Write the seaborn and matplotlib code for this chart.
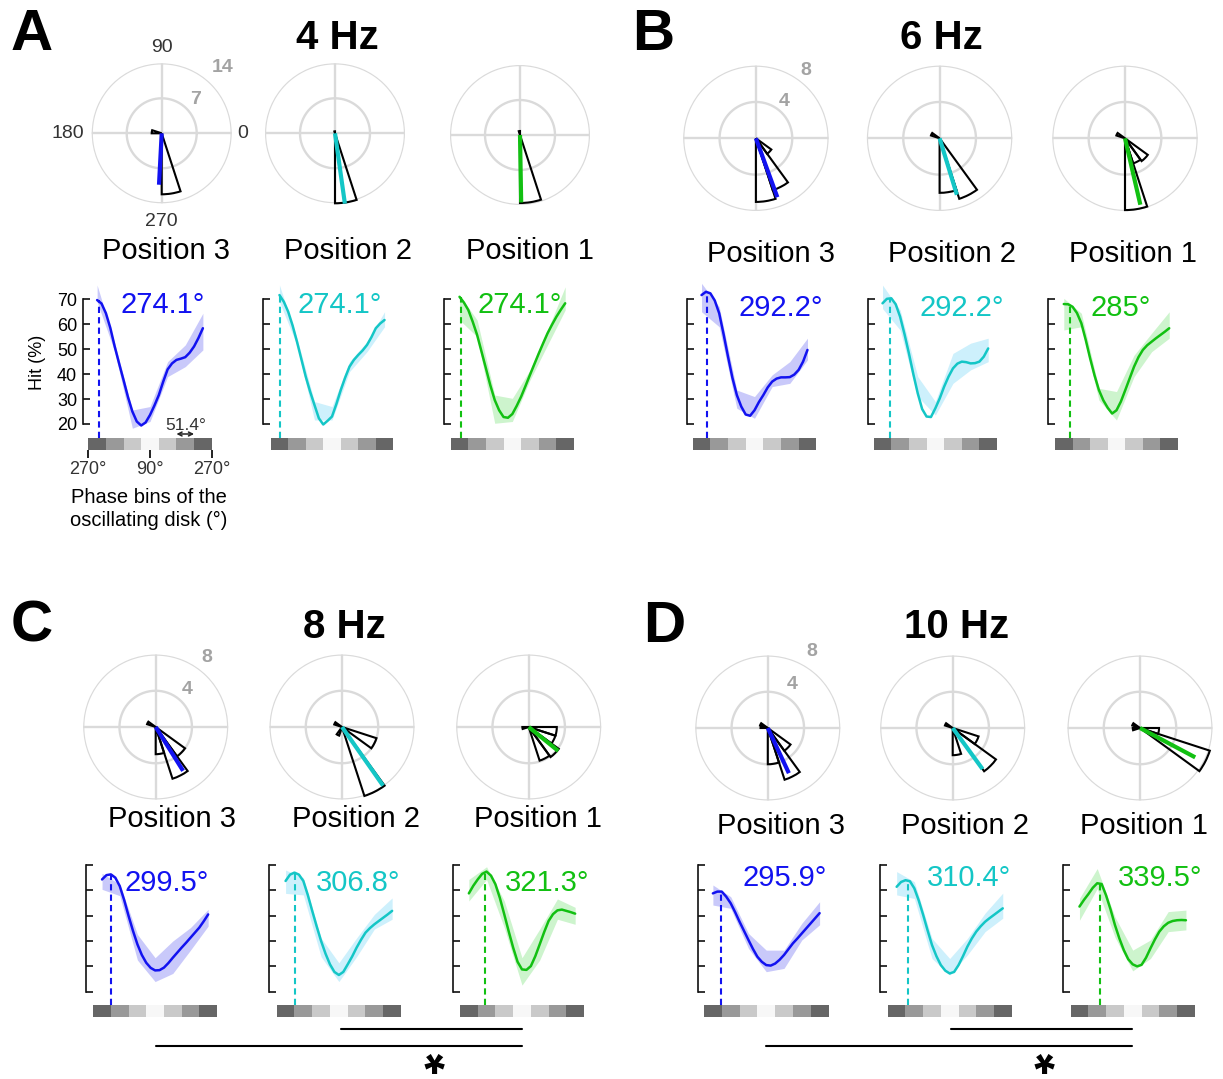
import numpy as np
import matplotlib
matplotlib.use("Agg")
import matplotlib.pyplot as plt
from matplotlib.lines import Line2D
import seaborn as sns

# ---------------------------------------------------------------- data
frequencies = ["4 Hz", "6 Hz", "8 Hz", "10 Hz"]
panel_letters = ["A", "B", "C", "D"]
positions = ["Position 3", "Position 2", "Position 1"]

phase_tick_labels = ["270°", "90°", "270°"]
bin_width_label = "51.4°"
hit_ylabel = "Hit (%)"
phase_xlabel = "Phase bins of the\noscillating disk (°)"
hit_ticks = [20, 30, 40, 50, 60, 70]

phase_bin_x = [0.5, 1.5, 2.5, 3.5, 4.5, 5.5, 6.5]
phase_bin_shade = ["#666666", "#999999", "#c9c9c9", "#f7f7f7", "#c9c9c9", "#999999", "#666666"]
hit_curve_x = [0.5, 0.75, 1.0, 1.25, 1.5, 1.75, 2.0, 2.25, 2.5, 2.75, 3.0, 3.25, 3.5,
               3.75, 4.0, 4.25, 4.5, 4.75, 5.0, 5.25, 5.5, 5.75, 6.0, 6.25, 6.5]

rose_rmax = [14, 8, 8, 8]
rose_bin_width = 18  # degrees

# ---- 4 Hz
rose_bins_4hz = [[270, 162], [270, 90], [270, 90]]
rose_counts_4hz = [[12.2, 2.0], [14.0, 0.4], [13.6, 0.8]]
mean_angle_4hz = [267, 278, 271]
mean_len_4hz = [10.3, 14.2, 13.5]
hit_4hz = [[69.7, 68.3, 64.4, 58.5, 51.0, 44.2, 37.6, 30.8, 25.0, 21.0, 19.4, 20.6, 23.6,
            27.4, 31.6, 37.0, 41.9, 44.3, 45.7, 46.2, 46.8, 48.6, 51.1, 54.5, 58.4],
           [71.7, 69.0, 65.0, 59.5, 53.0, 46.0, 39.0, 33.0, 27.6, 22.3, 19.8, 21.3, 23.0,
            28.0, 33.6, 38.6, 43.0, 45.7, 47.7, 49.5, 51.7, 54.8, 58.4, 60.3, 61.7],
           [71.0, 68.7, 65.7, 61.0, 55.7, 49.0, 42.3, 35.5, 29.6, 25.5, 22.8, 22.5, 24.0,
            27.3, 31.0, 35.3, 39.7, 44.0, 48.3, 52.4, 56.4, 59.8, 63.0, 65.8, 68.4]]
sem_lo_4hz = [[69.0, 49.0, 18.3, 21.0, 39.0, 43.0, 49.7],
              [69.0, 51.7, 21.6, 21.6, 41.0, 49.0, 59.0],
              [61.7, 55.0, 20.3, 21.0, 37.6, 51.7, 65.7]]
sem_hi_4hz = [[75.7, 52.4, 25.6, 27.0, 45.0, 51.7, 64.4],
              [75.7, 54.4, 29.0, 27.0, 45.0, 53.0, 65.0],
              [71.7, 61.7, 31.6, 30.3, 41.6, 57.7, 75.0]]
peak_x_4hz = [0.62, 0.53, 0.57]
peak_label_4hz = ["274.1°", "274.1°", "274.1°"]

# ---- 6 Hz
rose_bins_6hz = [[270, 288, 306], [270, 288, 144], [270, 288, 306, 144]]
rose_counts_6hz = [[7.0, 6.0, 2.1], [6.0, 7.0, 1.0], [7.9, 2.9, 3.1, 1.0]]
mean_angle_6hz = [290, 287, 283]
mean_len_6hz = [6.9, 6.5, 7.5]
hit_6hz = [[71.7, 73.0, 72.4, 69.5, 64.4, 56.0, 47.0, 38.5, 31.6, 27.0, 23.8, 23.3, 25.5,
            28.8, 31.6, 34.7, 37.0, 38.2, 38.7, 38.7, 38.8, 39.8, 41.7, 45.0, 49.7],
           [68.4, 70.2, 70.4, 68.0, 63.0, 56.0, 48.3, 40.0, 32.3, 26.0, 23.0, 22.8, 26.3,
            30.3, 35.0, 39.0, 42.3, 44.2, 45.0, 44.8, 44.3, 44.4, 45.0, 47.0, 50.3],
           [68.1, 68.0, 67.0, 64.5, 60.4, 53.7, 46.3, 39.5, 33.6, 29.5, 26.5, 24.2, 25.5,
            29.0, 33.6, 38.3, 43.0, 46.8, 49.7, 51.6, 53.0, 54.4, 55.7, 57.0, 58.4]]
sem_lo_6hz = [[65.0, 59.0, 26.3, 22.3, 35.0, 36.3, 45.7],
              [66.3, 57.7, 31.0, 23.6, 36.3, 41.7, 45.0],
              [57.7, 59.0, 29.6, 21.6, 39.0, 49.0, 54.4]]
sem_hi_6hz = [[76.4, 67.0, 33.6, 31.0, 39.7, 45.0, 54.4],
              [75.7, 65.7, 39.0, 29.0, 48.3, 52.4, 54.4],
              [70.4, 64.4, 34.3, 33.0, 47.6, 56.4, 65.0]]
peak_x_6hz = [0.82, 0.91, 0.83]
peak_label_6hz = ["292.2°", "292.2°", "285°"]

# ---- 8 Hz
rose_bins_8hz = [[270, 288, 306, 144], [288, 324, 144, 234], [288, 306, 324, 342, 180]]
rose_counts_8hz = [[3.0, 6.0, 4.0, 1.0], [8.0, 4.0, 0.9, 1.0], [3.9, 4.1, 3.1, 3.1, 0.7]]
mean_angle_8hz = [302, 305, 321]
mean_len_8hz = [5.7, 7.9, 4.2]
hit_8hz = [[64.3, 66.0, 66.3, 65.0, 61.7, 56.2, 49.9, 44.0, 38.7, 34.5, 31.4, 29.4, 28.4,
            28.5, 29.5, 31.3, 33.4, 35.4, 37.4, 39.3, 41.3, 43.3, 45.3, 47.8, 50.5],
           [63.7, 66.2, 67.0, 66.2, 63.7, 58.2, 51.9, 45.8, 40.0, 35.0, 30.8, 27.8, 26.6,
            27.8, 30.8, 33.9, 37.4, 40.5, 43.3, 45.1, 46.6, 47.9, 49.2, 50.5, 51.9],
           [58.8, 61.8, 64.3, 66.5, 67.4, 65.8, 62.4, 57.0, 50.5, 43.8, 37.4, 31.8, 28.8,
            28.6, 30.1, 34.0, 38.7, 43.5, 47.9, 50.6, 52.1, 52.4, 51.9, 51.4, 50.8]]
sem_lo_8hz = [[60.4, 57.9, 32.5, 24.0, 27.2, 36.4, 45.9],
              [58.8, 58.2, 33.8, 24.0, 33.8, 44.7, 48.6],
              [55.8, 64.3, 45.3, 22.6, 32.5, 48.6, 46.6]]
sem_hi_8hz = [[66.7, 62.4, 42.6, 33.4, 40.0, 45.3, 52.5],
              [68.0, 65.0, 41.2, 31.4, 41.2, 50.5, 57.0],
              [64.3, 69.3, 55.8, 33.4, 44.7, 56.6, 53.3]]
peak_x_8hz = [1.00, 1.03, 1.41]
peak_label_8hz = ["299.5°", "306.8°", "321.3°"]

# ---- 10 Hz
rose_bins_10hz = [[270, 288, 306, 144, 162], [270, 306, 324, 144], [324, 342, 144, 180]]
rose_counts_10hz = [[4.0, 6.0, 3.1, 0.9, 0.8], [3.0, 5.9, 3.0, 0.9], [8.1, 2.1, 0.9, 0.8]]
mean_angle_10hz = [295, 306, 332]
mean_len_10hz = [5.5, 5.6, 6.9]
hit_10hz = [[58.8, 59.5, 59.5, 57.5, 54.9, 51.4, 47.6, 44.0, 40.4, 36.9, 33.8, 31.8, 30.5,
             30.3, 31.1, 32.6, 34.5, 36.8, 39.1, 41.0, 43.0, 45.0, 47.0, 49.0, 51.0],
            [61.4, 63.3, 64.0, 63.6, 60.8, 56.0, 50.3, 44.2, 38.4, 34.0, 30.5, 28.3, 27.2,
             27.8, 30.5, 34.0, 37.8, 41.0, 43.7, 45.8, 47.6, 49.0, 50.3, 51.6, 52.9],
            [53.6, 56.2, 58.5, 61.0, 62.8, 62.5, 58.0, 52.5, 46.3, 41.0, 36.4, 32.8, 30.8,
             30.0, 30.6, 33.4, 37.1, 40.6, 43.7, 45.8, 47.2, 47.9, 48.2, 48.3, 48.2]]
sem_lo_10hz = [[54.2, 52.9, 37.1, 27.9, 29.2, 40.4, 46.4],
               [58.2, 56.8, 33.1, 26.6, 34.5, 43.7, 49.0],
               [48.2, 60.7, 41.5, 28.2, 33.1, 43.7, 44.4]]
sem_hi_10hz = [[62.1, 57.5, 43.0, 36.4, 36.4, 47.0, 55.5],
               [67.4, 63.4, 41.0, 33.1, 41.0, 51.0, 58.9],
               [56.8, 68.6, 49.5, 36.4, 40.4, 51.6, 52.2]]
peak_x_10hz = [0.94, 1.15, 1.65]
peak_label_10hz = ["295.9°", "310.4°", "339.5°"]

rose_bins = [rose_bins_4hz, rose_bins_6hz, rose_bins_8hz, rose_bins_10hz]
rose_counts = [rose_counts_4hz, rose_counts_6hz, rose_counts_8hz, rose_counts_10hz]
mean_angle = [mean_angle_4hz, mean_angle_6hz, mean_angle_8hz, mean_angle_10hz]
mean_len = [mean_len_4hz, mean_len_6hz, mean_len_8hz, mean_len_10hz]
hit = [hit_4hz, hit_6hz, hit_8hz, hit_10hz]
sem_lo = [sem_lo_4hz, sem_lo_6hz, sem_lo_8hz, sem_lo_10hz]
sem_hi = [sem_hi_4hz, sem_hi_6hz, sem_hi_8hz, sem_hi_10hz]
peak_x = [peak_x_4hz, peak_x_6hz, peak_x_8hz, peak_x_10hz]
peak_label = [peak_label_4hz, peak_label_6hz, peak_label_8hz, peak_label_10hz]

# ---------------------------------------------------------------- style
position_colors = ["#1212f0", "#14c6c6", "#12c012"]
band_colors = ["#c9c9fa", "#cdf0fc", "#cdf4cd"]
grid_color = "#dadada"

# pixel layout (styling only)
layout = [
    dict(letter=(32, 35), title=(337, 38),
         polar=[(161.7, 133.3), (335, 133.3), (520, 135)], R=70,
         pos_y=251, pos_x=[166, 348, 530],
         spine=[82.7, 262.7, 444], cb=[(88.3, 211.7), (270.7, 393.3), (450.7, 574)],
         y70=299.3, y20=424, cb_top=438.3, cb_bot=450,
         ptext=[(163, 305), (340, 305), (520, 305)],
         ring=[(47, 1.28), (45, 0.69)]),
    dict(letter=(653, 35), title=(941, 38),
         polar=[(755.9, 138.3), (939.6, 138.3), (1125, 138.3)], R=72.7,
         pos_y=254, pos_x=[771, 952, 1133],
         spine=[687, 868, 1048], cb=[(692.7, 816.3), (873.7, 997), (1055, 1178)],
         y70=299.3, y20=424, cb_top=438, cb_bot=450,
         ptext=[(781, 308), (962, 308), (1121, 308)],
         ring=[(54, 1.16), (52, 0.64)]),
    dict(letter=(32, 627), title=(344, 627),
         polar=[(155.7, 727), (342, 727), (528.7, 727)], R=72.5,
         pos_y=819, pos_x=[172.5, 355.6, 538.4],
         spine=[85.7, 268.9, 452.7], cb=[(93.2, 217), (276.7, 401), (460, 584)],
         y70=865, y20=991.7, cb_top=1005, cb_bot=1016.7,
         ptext=[(167, 883), (358, 883), (547, 883)],
         ring=[(54, 1.19), (50, 0.67)]),
    dict(letter=(664, 627), title=(957, 627),
         polar=[(767.8, 728), (952.7, 728), (1140, 728)], R=72.5,
         pos_y=826, pos_x=[781, 965, 1144],
         spine=[697.5, 879.6, 1063.4], cb=[(704, 828.5), (887.8, 1011.6), (1070.6, 1194.8)],
         y70=865, y20=991.7, cb_top=1005, cb_bot=1016.7,
         ptext=[(785, 878), (969, 878), (1160, 878)],
         ring=[(60, 1.22), (61, 0.69)]),
]
sig_lines = [  # (y, x0, x1)
    [(1029.3, 341, 522), (1046, 156.4, 522)],
    [(1029.3, 951, 1132), (1046, 766, 1132)],
]
sig_star = [(434, 1049), (1044, 1049)]

# ---------------------------------------------------------------- figure
sns.set_theme(style="white")
plt.rcParams['font.family'] = ['Liberation Sans', 'DejaVu Sans']
plt.rcParams['text.color'] = 'black'
plt.rcParams['axes.labelcolor'] = 'black'
plt.rcParams['xtick.color'] = 'black'
plt.rcParams['ytick.color'] = 'black'

W, H, DPI = 1223, 1079, 100
fig = plt.figure(figsize=(W / DPI, H / DPI), dpi=DPI)
fig.patch.set_facecolor("white")


def px_axes(x0, y0, x1, y1, **kw):
    return fig.add_axes([x0 / W, 1 - y1 / H, (x1 - x0) / W, (y1 - y0) / H], **kw)


def ftext(x, y, s, **kw):
    fig.text(x / W, 1 - y / H, s, **kw)


def draw_rose(cx, cy, R, rmax, bins, counts, ang, length, color):
    ax = px_axes(cx - R, cy - R, cx + R, cy + R, projection="polar")
    ax.set_ylim(0, rmax)
    ax.set_axis_off()
    t = np.linspace(0, 2 * np.pi, 361)
    for rr in (rmax / 2, rmax):
        ax.plot(t, np.full_like(t, rr), color=grid_color, lw=1.7, zorder=1)
    for a in (0, 0.5 * np.pi, np.pi, 1.5 * np.pi):
        ax.plot([a, a], [0, rmax], color=grid_color, lw=1.7, zorder=1)
    centers = np.deg2rad(np.array(bins, dtype=float) + rose_bin_width / 2)
    ax.bar(centers, counts, width=np.deg2rad(rose_bin_width), bottom=0,
           fill=False, edgecolor="black", linewidth=1.5, zorder=2, clip_on=False)
    th = np.deg2rad(ang)
    ax.plot([th, th], [0, length], color=color, lw=3.0, solid_capstyle="butt",
            zorder=3, clip_on=False)
    return ax


def draw_hit(spine_x, cb, y70, y20, cb_top, cb_bot, curve, lo, hi, px_, color, bcolor, first):
    cb_x0, cb_x1 = cb
    binpx = (cb_x1 - cb_x0) / 7.0
    pxu = (y20 - y70) / 50.0
    x_left = -(cb_x0 - spine_x) / binpx
    v_top = 84.0
    top_px = y20 - (v_top - 20) * pxu
    v_bot = 20 - (cb_bot - y20) / pxu
    v_cbtop = 20 - (cb_top - y20) / pxu
    ax = px_axes(spine_x, top_px, cb_x1, cb_bot)
    ax.set_xlim(x_left, 7.0)
    ax.set_ylim(v_bot, v_top)
    ax.patch.set_alpha(0)
    for s in ("top", "right", "bottom"):
        ax.spines[s].set_visible(False)
    ax.spines["left"].set_bounds(20, 70)
    ax.spines["left"].set_color("#111111")
    ax.spines["left"].set_linewidth(1.2)
    ax.set_yticks(hit_ticks)
    ax.tick_params(axis="y", direction="in", length=5, width=1.2, colors="#111111",
                   left=True, labelsize=13, pad=4, labelcolor="black")
    if not first:
        ax.set_yticklabels([])
    # phase bins bar
    ax.bar(phase_bin_x, [v_cbtop - v_bot] * 7, bottom=v_bot, width=1.0,
           color=phase_bin_shade, linewidth=0, zorder=1)
    ax.fill_between(phase_bin_x, lo, hi, color=bcolor, linewidth=0, zorder=2)
    sns.lineplot(x=hit_curve_x, y=curve, ax=ax, color=color, linewidth=1.8,
                 sort=False, estimator=None, zorder=3)
    for ln in ax.get_lines():
        ln.set_solid_joinstyle("round")
    ax.vlines(px_, v_cbtop, max(curve), colors=color, linestyles=(0, (3, 2)),
              linewidth=1.5, zorder=3)
    ax.set_xlabel("")
    ax.set_ylabel("")
    if first:
        ax.set_xticks([0, 3.5, 7])
        ax.set_xticklabels(phase_tick_labels)
        ax.tick_params(axis="x", direction="out", length=6, width=1.3, colors="#111111",
                       bottom=True, labelsize=13, pad=2, labelcolor="#333333")
        yv = 20 - (434 - y20) / pxu
        ax.annotate("", xy=(5.0, yv), xytext=(6.0, yv),
                    arrowprops=dict(arrowstyle="<->", color="#222222", lw=1.1,
                                    shrinkA=0, shrinkB=0, mutation_scale=7),
                    annotation_clip=False)
        ax.text(5.55, 20 - (425 - y20) / pxu, bin_width_label, ha="center", va="center",
                fontsize=12.5, color="#333333")
    else:
        ax.set_xticks([])
    return ax


for p in range(4):
    L = layout[p]
    ftext(*L["letter"], panel_letters[p], fontsize=42, fontweight="bold", ha="center", va="center")
    ftext(*L["title"], frequencies[p], fontsize=29, fontweight="bold", ha="center", va="center")
    rmax = rose_rmax[p]
    for k in range(3):
        cx, cy = L["polar"][k]
        ax = draw_rose(cx, cy, L["R"], rmax, rose_bins[p][k], rose_counts[p][k],
                       mean_angle[p][k], mean_len[p][k], position_colors[k])
        if k == 0:
            (a1, f1), (a2, f2) = L["ring"]
            ax.text(np.deg2rad(a1), f1 * rmax, f"{rmax}", color="#a3a3a3", fontsize=14,
                    fontweight="bold", ha="center", va="center", clip_on=False)
            ax.text(np.deg2rad(a2), f2 * rmax, f"{rmax // 2}", color="#a3a3a3", fontsize=14,
                    fontweight="bold", ha="center", va="center", clip_on=False)
            if p == 0:
                for ang_, fr, lab in [(0, 1.15, "0"), (90, 1.22, "90"), (180, 1.34, "180"),
                                      (270, 1.26, "270")]:
                    ax.text(np.deg2rad(ang_), fr * rmax, lab, color="#333333", fontsize=14,
                            ha="center", va="center", clip_on=False)
        ftext(L["pos_x"][k], L["pos_y"], positions[k], fontsize=21, ha="center", va="center")
        draw_hit(L["spine"][k], L["cb"][k], L["y70"], L["y20"], L["cb_top"], L["cb_bot"],
                 hit[p][k], sem_lo[p][k], sem_hi[p][k], peak_x[p][k],
                 position_colors[k], band_colors[k], first=(p == 0 and k == 0))
        ftext(*L["ptext"][k], peak_label[p][k], fontsize=21, color=position_colors[k],
              ha="center", va="center")

# axis labels for the first hit plot
ftext(38, 362, hit_ylabel, fontsize=13, rotation=90, ha="center", va="center")
ftext(149, 509, phase_xlabel, fontsize=14.5, ha="center", va="center", linespacing=1.25)

# significance bars
for j in range(2):
    for (y, x0, x1) in sig_lines[j]:
        fig.add_artist(Line2D([x0 / W, x1 / W], [1 - y / H, 1 - y / H],
                              transform=fig.transFigure, color="black", lw=1.5))
    sx, sy = sig_star[j]
    ftext(sx, sy, "*", fontsize=38, fontweight="bold", rotation=180,
          ha="center", va="center")

fig.savefig("out.png", dpi=DPI, facecolor="white")
